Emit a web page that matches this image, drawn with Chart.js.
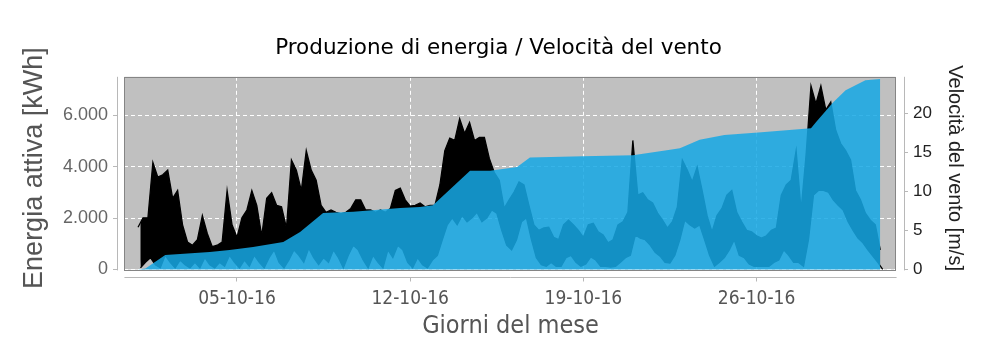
<!DOCTYPE html>
<html>
<head>
<meta charset="utf-8">
<script src="https://cdn.jsdelivr.net/npm/chart.js@4.4.1/dist/chart.umd.min.js"></script>
<style>
    body { margin: 0; background: #fff; }
    #wrap { width: 997px; height: 355px; }
</style>
</head>
<body>
<div id="wrap"><canvas id="windChart"></canvas></div>
<script>
// ticks
const tickDays = [5, 12, 19, 26];
const energyTicks = [0, 2000, 4000, 6000];
const windTicks = [0, 5, 10, 15, 20];

// cumulative energy (kWh), breakpoints
const energyDays = [1.0, 1.3, 2.1, 3.9, 4.7, 5.65, 6.87, 7.55, 8.48, 9.7, 11.6, 12.4, 12.92, 14.42, 15.23,
    16.32, 16.84, 18.98, 21.0, 22.37, 22.9, 23.7, 24.7, 26.2, 28.2, 28.4, 29.1, 29.6, 30.4, 31.0];
const energyTotal = [0, 40, 560, 680, 755, 870, 1065, 1455, 2200, 2250, 2390, 2430, 2500, 3840, 3840,
    3990, 4360, 4410, 4450, 4640, 4720, 5050, 5230, 5340, 5500, 5730, 6510, 6980, 7370, 7410];

// wind speed (m/s), upper and lower edge of the band, every 0.2 days from 1 Oct
const windStart = 1.0;
const windStep = 0.2;
const windHigh = [
    5.4, 6.6, 6.6, 13.7, 11.8, 12.1, 12.7, 9.1, 10.1, 5.7,
    3.5, 3.1, 3.8, 6.9, 4.6, 2.9, 3.1, 3.5, 10.1, 5.7,
    4.1, 6.6, 7.6, 10.1, 8.2, 4.3, 9.1, 9.8, 8.2, 8.0,
    5.3, 14.0, 12.7, 10.1, 15.2, 12.7, 11.4, 8.2, 7.3, 7.6,
    7.3, 7.1, 7.3, 7.8, 8.9, 8.9, 7.6, 7.6, 7.3, 7.6,
    7.3, 7.8, 10.1, 10.4, 8.9, 8.1, 8.2, 8.5, 8.0, 8.2,
    8.2, 10.8, 15.2, 16.8, 16.5, 19.3, 17.4, 18.8, 16.5, 16.9,
    16.9, 14.2, 12.4, 11.4, 7.8, 8.9, 9.9, 11.2, 10.8, 8.2,
    5.7, 5.0, 5.3, 5.4, 4.1, 3.8, 5.7, 6.3, 5.7, 5.0,
    4.1, 5.7, 5.9, 4.8, 4.4, 3.4, 3.8, 5.7, 6.1, 7.3,
    16.5, 9.5, 9.8, 8.9, 8.5, 7.2, 6.3, 5.3, 6.1, 8.0,
    14.0, 12.7, 11.2, 13.1, 10.1, 6.9, 4.8, 6.9, 7.8, 9.5,
    10.1, 7.3, 6.1, 5.0, 4.8, 4.3, 4.0, 4.3, 5.0, 5.3,
    9.5, 10.8, 11.4, 15.2, 7.6, 14.6, 23.5, 21.2, 23.5, 20.4,
    21.4, 17.8, 16.1, 15.2, 14.0, 10.1, 8.9, 7.2, 6.3, 5.7,
    2.5
];
const windLow = [
    0.2, 0.9, 1.5, 0.6, 0.2, 1.8, 0.9, 0.2, 1.2, 0.6,
    0.2, 0.9, 0.2, 1.5, 0.6, 0.2, 0.9, 0.4, 1.8, 0.9,
    0.2, 1.2, 0.4, 1.8, 0.9, 0.2, 1.5, 2.5, 0.9, 0.2,
    1.2, 2.5, 1.8, 0.9, 2.7, 1.5, 0.6, 1.5, 0.9, 2.5,
    1.5, 0.2, 1.8, 3.1, 2.5, 1.2, 0.2, 1.8, 0.9, 0.2,
    2.5, 1.5, 3.1, 2.5, 0.9, 0.2, 1.5, 0.6, 0.2, 1.2,
    1.8, 3.8, 5.7, 6.6, 5.7, 6.9, 6.1, 6.6, 7.3, 6.1,
    6.6, 7.6, 7.2, 5.0, 3.1, 2.5, 3.8, 6.1, 6.6, 3.8,
    1.5, 0.6, 0.4, 0.9, 0.4, 0.4, 1.5, 1.8, 0.9, 0.4,
    0.7, 1.6, 1.2, 0.4, 0.4, 0.3, 0.4, 0.9, 1.5, 1.8,
    4.4, 4.0, 3.8, 3.1, 2.2, 1.7, 0.9, 0.8, 1.8, 3.8,
    6.3, 5.7, 5.3, 5.7, 3.8, 1.8, 0.4, 0.9, 1.5, 2.5,
    3.8, 1.8, 1.5, 0.7, 0.4, 0.4, 0.4, 0.4, 0.9, 1.2,
    2.5, 1.8, 0.9, 0.9, 0.4, 3.8, 9.5, 10.1, 10.1, 9.9,
    8.9, 8.2, 7.6, 6.1, 5.0, 4.0, 3.4, 2.5, 1.7, 0.9,
    0
];

document.addEventListener('DOMContentLoaded', () => {
    const ctx = document.getElementById('windChart').getContext('2d');

    const highPoints = windHigh.map((v, i) => ({ x: windStart + i * windStep, y: v }));
    const lowPoints = windLow.map((v, i) => ({ x: windStart + i * windStep + windStep / 2, y: v }));
    const energyPoints = energyDays.map((d, i) => ({ x: d, y: energyTotal[i] }));

    const fmtThousands = v => v >= 1000 ? Math.floor(v / 1000) + '.' + String(v % 1000).padStart(3, '0') : String(v);

    // grey plot box, inset from the axes, plus the two vertical axis titles
    const plotBox = {
        id: 'plotBox',
        beforeDraw(chart) {
            const { ctx, scales } = chart;
            const l = scales.x.getPixelForValue(0.45), r = scales.x.getPixelForValue(31.62);
            const t = chart.chartArea.top, b = scales.y.getPixelForValue(0);
            chart.$box = { l, r, t, b };
            ctx.save();
            ctx.fillStyle = '#c0c0c0';
            ctx.fillRect(l, t, r - l, b - t);
            ctx.restore();
        },
        afterDatasetsDraw(chart) {
            const { ctx } = chart;
            const { l, r, t, b } = chart.$box;
            const ca = chart.chartArea;
            ctx.save();
            ctx.strokeStyle = '#858585';
            ctx.lineWidth = 1;
            ctx.strokeRect(Math.round(l) + 0.5, Math.round(t) + 0.5, Math.round(r - l), Math.round(b - t));
            // axis lines sit a few pixels outside the box
            ctx.strokeStyle = '#b8b8b8';
            ctx.beginPath();
            ctx.moveTo(Math.round(ca.left) + 0.5, t);
            ctx.lineTo(Math.round(ca.left) + 0.5, b + 1);
            ctx.moveTo(Math.round(ca.right) + 0.5, t);
            ctx.lineTo(Math.round(ca.right) + 0.5, b + 1);
            ctx.moveTo(l, Math.round(ca.bottom) + 0.5);
            ctx.lineTo(r + 1, Math.round(ca.bottom) + 0.5);
            ctx.stroke();

            const midY = (t + b) / 2 - 5;
            ctx.textAlign = 'center';
            ctx.textBaseline = 'middle';
            ctx.fillStyle = '#555';
            ctx.font = "27px 'Liberation Sans', Arial, sans-serif";
            ctx.translate(35, midY);
            ctx.rotate(-Math.PI / 2);
            ctx.fillText('Energia attiva [kWh]', 0, 0);
            ctx.setTransform(1, 0, 0, 1, 0, 0);
            ctx.fillStyle = '#222';
            ctx.font = "20px 'Liberation Sans', Arial, sans-serif";
            ctx.translate(955, midY);
            ctx.rotate(Math.PI / 2);
            ctx.fillText('Velocità del vento [m/s]', 0, 0);
            ctx.restore();
        }
    };

    new Chart(ctx, {
        type: 'line',
        data: {
            datasets: [{
                label: 'Produzione di energia',
                data: energyPoints,
                yAxisID: 'y',
                fill: 'origin',
                backgroundColor: 'rgba(22, 168, 228, 0.86)',
                borderWidth: 0,
                pointRadius: 0
            }, {
                label: 'Velocità del vento',
                data: highPoints,
                yAxisID: 'y1',
                fill: '+1',
                backgroundColor: '#000',
                borderColor: '#000',
                borderWidth: 1.3,
                pointRadius: 0,
                tension: 0
            }, {
                label: 'Velocità del vento (min)',
                data: lowPoints,
                yAxisID: 'y1',
                fill: false,
                borderColor: '#000',
                borderWidth: 1.3,
                pointRadius: 0,
                tension: 0
            }]
        },
        options: {
            responsive: true,
            maintainAspectRatio: false,
            animation: false,
            events: [],
            layout: { padding: 0 },
            plugins: {
                legend: { display: false },
                tooltip: { enabled: false },
                title: {
                    display: true,
                    text: 'Produzione di energia / Velocità del vento',
                    color: '#000',
                    font: { family: 'DejaVu Sans', size: 21.5, weight: 'normal' },
                    padding: { top: 36, bottom: 15 }
                }
            },
            scales: {
                x: {
                    type: 'linear',
                    min: 0.15,
                    max: 31.96,
                    afterFit: scale => { scale.height = 78.5; },
                    afterBuildTicks: scale => { scale.ticks = tickDays.map(v => ({ value: v })); },
                    grid: { color: '#fff', tickColor: '#b8b8b8', tickLength: 5 },
                    border: { display: false, dash: [4, 3] },
                    ticks: {
                        color: '#555',
                        padding: 6,
                        maxRotation: 0,
                        font: { family: "'Liberation Sans Narrow', 'DejaVu Sans Condensed', sans-serif", size: 19 },
                        callback: v => String(v).padStart(2, '0') + '-10-16'
                    },
                    title: {
                        display: true,
                        text: 'Giorni del mese',
                        color: '#555',
                        font: { family: "'Liberation Sans Narrow', 'DejaVu Sans Condensed', sans-serif", size: 25 },
                        padding: { top: 0, bottom: 14 }
                    }
                },
                y: {
                    position: 'left',
                    min: -276,
                    max: 7500,
                    afterFit: scale => { scale.width = 117; },
                    afterBuildTicks: scale => { scale.ticks = energyTicks.map(v => ({ value: v })); },
                    grid: { color: '#fff', tickColor: '#b8b8b8', tickLength: 4 },
                    border: { display: false, dash: [4, 3] },
                    ticks: {
                        color: '#666',
                        padding: 5,
                        font: { family: "'Liberation Sans', Arial, sans-serif", size: 18 },
                        callback: v => fmtThousands(v)
                    }
                },
                y1: {
                    position: 'right',
                    min: -0.907,
                    max: 24.64,
                    afterFit: scale => { scale.width = 93; },
                    afterBuildTicks: scale => { scale.ticks = windTicks.map(v => ({ value: v })); },
                    grid: { drawOnChartArea: false, color: '#b8b8b8', tickLength: 4 },
                    border: { display: false },
                    ticks: {
                        color: '#222',
                        padding: 5,
                        font: { family: "'Liberation Sans', Arial, sans-serif", size: 17 }
                    }
                }
            }
        },
        plugins: [plotBox]
    });
});
</script>
</body>
</html>
